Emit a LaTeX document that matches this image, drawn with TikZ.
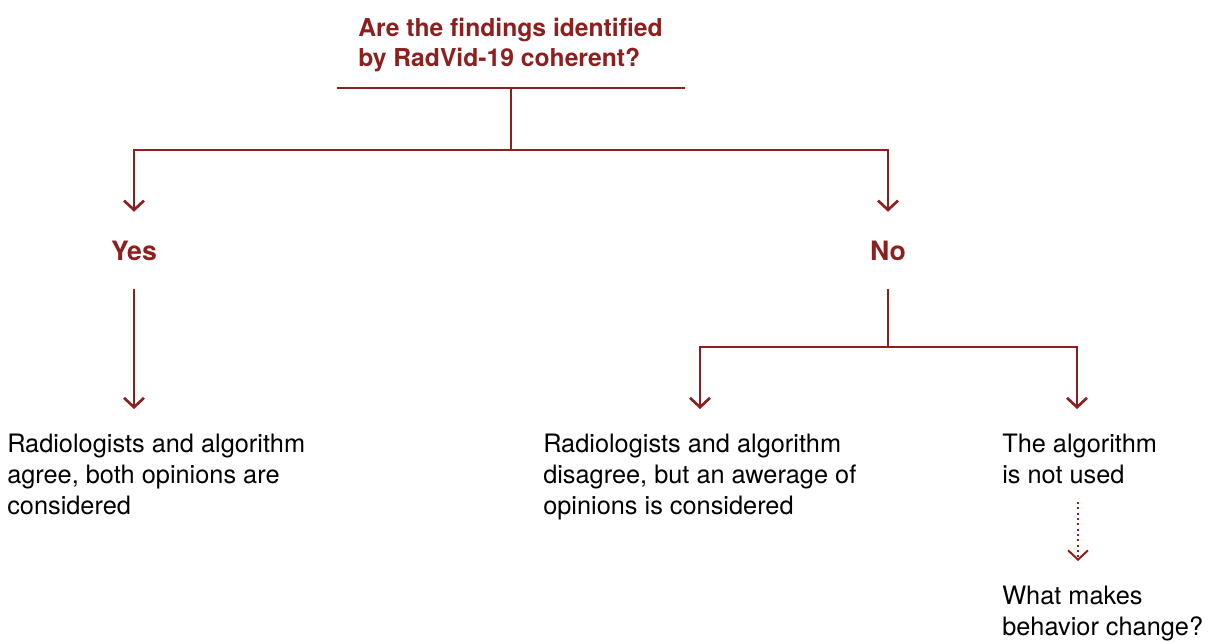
\documentclass[tikz,border=0pt]{standalone}
\usepackage{fontspec}
\setmainfont{TeX Gyre Heros}
\usetikzlibrary{arrows.meta}
\definecolor{radred}{RGB}{142,31,31}

\begin{document}
\begin{tikzpicture}[x=0.75pt,y=-0.75pt,
  link/.style={draw=radred,line width=2pt},
  tip/.style={-{Straight Barb[length=7pt,width=15pt]}},
  question/.style={font=\bfseries\fontsize{18.5}{22.5}\selectfont,text=radred,align=left,inner sep=0pt,anchor=north west},
  answer/.style={font=\bfseries\fontsize{20}{24}\selectfont,text=radred,inner sep=0pt,minimum height=57.75pt},
  outcome/.style={font=\fontsize{19}{23.25}\selectfont,align=left,inner sep=0pt,outer ysep=18.75pt,anchor=north west}]
\useasboundingbox (0,0) rectangle (1209,642);
\draw (358,18) node[question](q) {Are the findings identified\\by RadVid-19 coherent?};
\coordinate (qleft) at (337,88);
\coordinate (qright) at (685,88);
\coordinate (qfoot) at (511,88);
\coordinate (split) at (511,150);
\draw (134,250.5) node[answer](yes) {Yes};
\draw (888,250.5) node[answer](no) {No};
\coordinate (fork) at (888,347);
\coordinate (noleft) at (700,347);
\coordinate (noright) at (1077,347);
\draw (7,409) node[outcome](agree) {Radiologists and algorithm\\agree, both opinions are\\considered};
\draw (543,409) node[outcome](disagree) {Radiologists and algorithm\\disagree, but an awerage of\\opinions is considered};
\draw (1002,409) node[outcome](notused) {The algorithm\\is not used};
\draw (1002,561) node[outcome](behavior) {What makes\\behavior change?};
\coordinate (dotstart) at (1078,502);
\draw[link] (qleft) -- (qright);
\draw[link] (qfoot) -- (split);
\draw[link,tip] (split) -| (yes.north);
\draw[link,tip] (split) -| (no.north);
\draw[link,tip] (yes.south) -- (yes.south |- agree.north);
\draw[link] (no.south) -- (fork);
\draw[link,tip] (fork) -| (noleft |- disagree.north);
\draw[link,tip] (fork) -| (noright |- notused.north);
\draw[link,line width=1.5pt,dash pattern=on 1.6pt off 2.4pt,tip] (dotstart) -- (dotstart |- behavior.north);
\end{tikzpicture}
\end{document}
